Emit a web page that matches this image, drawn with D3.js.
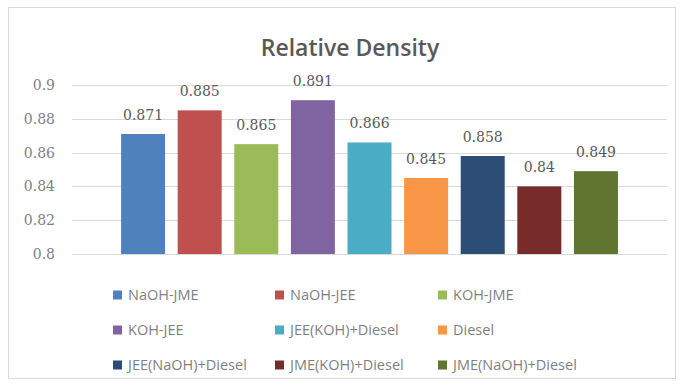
<!DOCTYPE html>
<html>
<head>
<meta charset="utf-8">
<script src="https://cdn.jsdelivr.net/npm/d3@7"></script>
<style>
  html, body { margin: 0; padding: 0; background: #ffffff; }
  svg { display: block; }
</style>
</head>
<body>
<div id="chart"></div>
<script>
const title = "Relative Density";
const seriesNames = ["NaOH-JME", "NaOH-JEE", "KOH-JME", "KOH-JEE", "JEE(KOH)+Diesel", "Diesel", "JEE(NaOH)+Diesel", "JME(KOH)+Diesel", "JME(NaOH)+Diesel"];
const values = [0.871, 0.885, 0.865, 0.891, 0.866, 0.845, 0.858, 0.84, 0.849];
const valueLabels = ["0.871", "0.885", "0.865", "0.891", "0.866", "0.845", "0.858", "0.84", "0.849"];
const colors = ["#4F81BD", "#C0504D", "#9BBB59", "#8064A2", "#4BACC6", "#F79646", "#2C4D75", "#772C2A", "#5F7530"];
const yTicks = [0.8, 0.82, 0.84, 0.86, 0.88, 0.9];
const yTickLabels = ["0.8", "0.82", "0.84", "0.86", "0.88", "0.9"];

const W = 683, H = 387;
const svg = d3.select("#chart").append("svg").attr("width", W).attr("height", H);

// chart frame
svg.append("rect").attr("x", 8.5).attr("y", 7.5).attr("width", 667).attr("height", 371)
  .attr("fill", "#ffffff").attr("stroke", "#d9d9d9").attr("stroke-width", 1);

const plot = { left: 72, right: 667, top: 85, bottom: 254 };

const y = d3.scaleLinear().domain([0.8, 0.9]).range([plot.bottom, plot.top]);
const x = d3.scaleBand().domain(seriesNames).range([plot.left, plot.right])
  .paddingInner(0.223).paddingOuter(0.867);

// title
svg.append("text").attr("x", 350).attr("y", 56).attr("text-anchor", "middle")
  .attr("font-family", "'Open Sans', sans-serif").attr("font-weight", 600)
  .attr("font-size", 23).attr("fill", "#595959").text(title);

// gridlines
svg.append("g").selectAll("line").data(yTicks).join("line")
  .attr("x1", plot.left).attr("x2", plot.right)
  .attr("y1", d => Math.round(y(d)) + 0.5).attr("y2", d => Math.round(y(d)) + 0.5)
  .attr("stroke", "#d9d9d9").attr("stroke-width", 1);

// y axis labels
const yAxis = d3.axisLeft(y).tickValues(yTicks).tickSize(0).tickPadding(0)
  .tickFormat((d, i) => yTickLabels[i]);
const gy = svg.append("g").attr("transform", "translate(55,0)").call(yAxis);
gy.select(".domain").remove();
gy.attr("font-family", null).attr("font-size", null);
gy.selectAll("text").style("font-family", "'DejaVu Serif', 'Liberation Serif', serif").style("font-size", "14px")
  .attr("fill", "#7f7f7f");

// bars
svg.append("g").selectAll("rect").data(values).join("rect")
  .attr("x", (d, i) => x(seriesNames[i]))
  .attr("width", x.bandwidth())
  .attr("y", d => y(d))
  .attr("height", d => y(0.8) - y(d))
  .attr("fill", (d, i) => colors[i]);

// data labels
svg.append("g").selectAll("text").data(values).join("text")
  .attr("x", (d, i) => x(seriesNames[i]) + x.bandwidth() / 2)
  .attr("y", d => y(d) - 14)
  .attr("text-anchor", "middle")
  .style("font-family", "'DejaVu Serif', 'Liberation Serif', serif").style("font-size", "14px")
  .attr("fill", "#595959")
  .text((d, i) => valueLabels[i]);

// legend
const colX = [113, 275, 438];
const rowY = [295, 330, 365];
const lg = svg.append("g").selectAll("g").data(seriesNames).join("g")
  .attr("transform", (d, i) => `translate(${colX[i % 3]},${rowY[Math.floor(i / 3)]})`);
lg.append("rect").attr("x", 0).attr("y", -4.5).attr("width", 9).attr("height", 9)
  .attr("fill", (d, i) => colors[i]);
lg.append("text").attr("x", 15).attr("y", 5)
  .attr("font-family", "'Open Sans', sans-serif").attr("font-size", 14.5)
  .attr("fill", "#7f7f7f").text(d => d);
</script>
</body>
</html>
